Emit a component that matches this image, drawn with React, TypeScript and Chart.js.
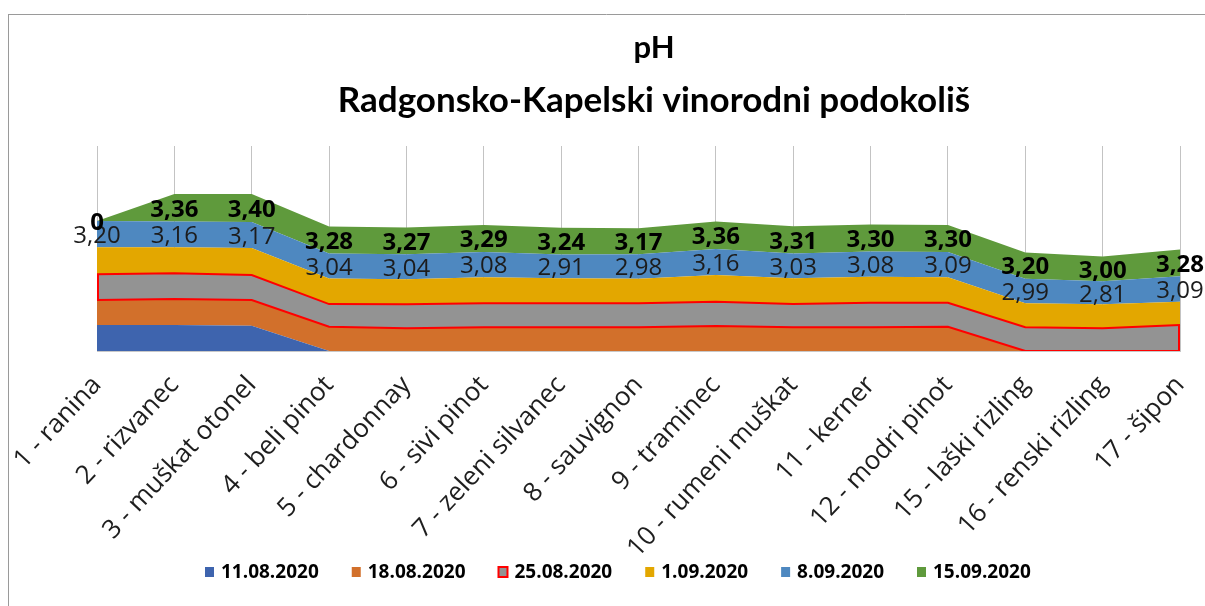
import React, { useEffect, useRef } from 'react';
import { Chart, registerables } from 'chart.js';

Chart.register(...registerables);

const categories = [
  '1 - ranina',
  '2 - rizvanec',
  '3 - muškat otonel',
  '4 - beli pinot',
  '5 - chardonnay',
  '6 - sivi pinot',
  '7 - zeleni silvanec',
  '8 - sauvignon',
  '9 - traminec',
  '10 - rumeni muškat',
  '11 - kerner',
  '12 - modri pinot',
  '15 - laški rizling',
  '16 - renski rizling',
  '17 - šipon',
];

const seriesNames = ['11.08.2020', '18.08.2020', '25.08.2020', '1.09.2020', '8.09.2020', '15.09.2020'];

const s1108 = [3.17, 3.17, 3.09, 0, 0, 0, 0, 0, 0, 0, 0, 0, 0, 0, 0];
const s1808 = [3.05, 3.17, 3.13, 2.96, 2.77, 2.9, 2.89, 2.89, 3.05, 2.89, 2.89, 2.96, 0, 0, 0];
const s2508 = [3.13, 3.13, 3.05, 2.76, 2.93, 2.93, 2.93, 2.93, 2.97, 2.85, 3.0, 2.93, 2.89, 2.77, 3.17];
const s0109 = [3.29, 3.17, 3.3, 3.13, 3.05, 3.17, 3.05, 3.0, 3.25, 3.13, 3.17, 3.1, 2.93, 2.93, 2.85];
const s0809 = [3.2, 3.16, 3.17, 3.04, 3.04, 3.08, 2.91, 2.98, 3.16, 3.03, 3.08, 3.09, 2.99, 2.81, 3.09];
const s1509 = [0, 3.36, 3.4, 3.28, 3.27, 3.29, 3.24, 3.17, 3.36, 3.31, 3.3, 3.3, 3.2, 3.0, 3.28];

const seriesValues = [s1108, s1808, s2508, s0109, s0809, s1509];
const fillColors = ['#3E64AE', '#D2702B', '#939393', '#E3A700', '#4E88C0', '#5F9A3C'];
const lineColors = ['rgba(0,0,0,0)', '#FF0000', '#FF0000', 'rgba(0,0,0,0)', 'rgba(0,0,0,0)', 'rgba(0,0,0,0)'];
const lineWidths = [0, 2, 2, 0, 0, 0];

const titleLines = ['pH', 'Radgonsko-Kapelski vinorodni podokoliš'];

const fmt = (v: number) => (v === 0 ? '0' : v.toFixed(2).replace('.', ','));

const customPlugin = {
  id: 'customDecor',
  beforeDraw(chart: any) {
    const ctx = chart.ctx;
    ctx.save();
    ctx.fillStyle = '#ffffff';
    ctx.fillRect(0, 0, chart.width, chart.height);
    ctx.strokeStyle = '#9a9a9a';
    ctx.lineWidth = 1;
    ctx.beginPath();
    ctx.moveTo(8, 14.5);
    ctx.lineTo(chart.width, 14.5);
    ctx.moveTo(8.5, 14);
    ctx.lineTo(8.5, chart.height);
    ctx.stroke();
    ctx.restore();
  },
  afterDatasetsDraw(chart: any) {
    const ctx = chart.ctx;
    const m1 = chart.getDatasetMeta(1).data;
    const m2 = chart.getDatasetMeta(2).data;
    const n = categories.length;
    ctx.save();
    ctx.strokeStyle = '#FF0000';
    ctx.lineWidth = 2;
    [0, n - 1].forEach((i) => {
      const x = i === 0 ? m2[i].x + 1 : m2[i].x - 1;
      ctx.beginPath();
      ctx.moveTo(x, m1[i].y);
      ctx.lineTo(x, m2[i].y);
      ctx.stroke();
    });
    ctx.textAlign = 'center';
    ctx.textBaseline = 'middle';
    const labelSeries = [
      { idx: 4, font: '24px "Open Sans"', color: '#1c1c1c' },
      { idx: 5, font: 'bold 24px "Open Sans"', color: '#000000' },
    ];
    labelSeries.forEach(({ idx, font, color }) => {
      const cur = chart.getDatasetMeta(idx).data;
      const prev = chart.getDatasetMeta(idx - 1).data;
      ctx.font = font;
      ctx.fillStyle = color;
      seriesValues[idx].forEach((v: number, j: number) => {
        const y = (cur[j].y + prev[j].y) / 2 + 2;
        ctx.fillText(fmt(v), cur[j].x, y);
      });
    });
    ctx.restore();
  },
  afterDraw(chart: any) {
    const ctx = chart.ctx;
    ctx.save();
    ctx.fillStyle = '#000000';
    ctx.textAlign = 'center';
    ctx.textBaseline = 'alphabetic';
    ctx.font = 'bold 31px Lato';
    ctx.fillText(titleLines[0], 654, 58);
    ctx.font = 'bold 35px Lato';
    ctx.fillText(titleLines[1], 654, 112);
    ctx.font = 'bold 19px "Open Sans"';
    ctx.textAlign = 'left';
    ctx.textBaseline = 'middle';
    let x = 205;
    const cy = 572;
    seriesNames.forEach((name, i) => {
      ctx.fillStyle = fillColors[i];
      ctx.fillRect(x, cy - 5, 9, 10);
      if (i === 2) {
        ctx.strokeStyle = '#FF0000';
        ctx.lineWidth = 2;
        ctx.strokeRect(x, cy - 5, 9, 10);
      }
      ctx.fillStyle = '#000000';
      ctx.fillText(name, x + 16, cy + 1);
      x += 16 + ctx.measureText(name).width + 33;
    });
    ctx.restore();
  },
};

export default function App() {
  const canvasRef = useRef<HTMLCanvasElement | null>(null);

  useEffect(() => {
    if (!canvasRef.current) return;
    const datasets = seriesValues.map((vals, i) => ({
      label: seriesNames[i],
      data: vals,
      backgroundColor: fillColors[i],
      borderColor: lineColors[i],
      borderWidth: lineWidths[i],
      fill: i === 0 ? 'origin' : '-1',
      pointRadius: 0,
      tension: 0,
    }));
    const chart = new Chart(canvasRef.current, {
      type: 'line',
      data: { labels: categories, datasets },
      options: {
        animation: false,
        responsive: false,
        maintainAspectRatio: false,
        layout: { padding: { left: 97, right: 25, top: 146, bottom: 0 } },
        plugins: {
          legend: { display: false },
          title: { display: false },
          tooltip: { enabled: false },
        },
        elements: { point: { radius: 0 }, line: { tension: 0 } },
        scales: {
          x: {
            offset: false,
            grid: { display: true, color: '#c3c3c3', lineWidth: 1, drawTicks: false },
            border: { display: true, color: '#c8c8c8' },
            ticks: {
              autoSkip: false,
              minRotation: 47,
              maxRotation: 47,
              padding: 19,
              color: '#1e1e1e',
              font: { family: '"Open Sans"', size: 26 },
            },
            afterFit: (s: any) => {
              s.height = 255;
              s.paddingLeft = 0;
              s.paddingRight = 0;
            },
          },
          y: { display: false, stacked: true, min: 0, max: 25 },
        },
      } as any,
      plugins: [customPlugin],
    });
    return () => chart.destroy();
  }, []);

  return (
    <div style={{ position: 'absolute', left: 0, top: 0, width: 1205, height: 606, overflow: 'hidden', background: '#fff' }}>
      <canvas ref={canvasRef} width={1205} height={606} style={{ width: 1205, height: 606, display: 'block' }} />
    </div>
  );
}
